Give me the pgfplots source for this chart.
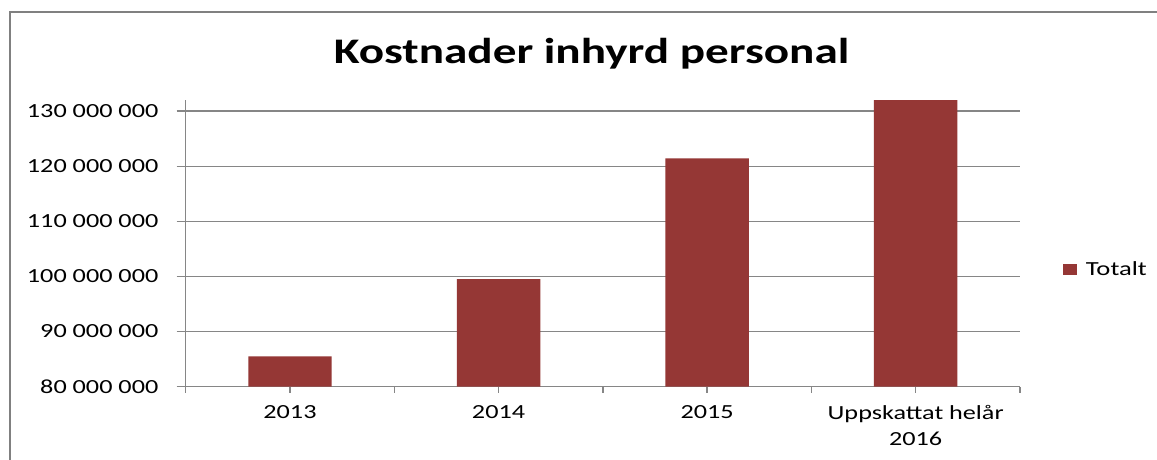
\documentclass[border=0pt]{standalone}
\usepackage{pgfplots}
\pgfplotsset{compat=1.18}
\usepackage{fontspec}
\setmainfont{Carlito}
\definecolor{barred}{HTML}{953735}
\definecolor{gridgray}{HTML}{868686}
\definecolor{framegray}{HTML}{808080}
\begin{document}
\begin{tikzpicture}[x=0.75pt,y=0.75pt]
\path[use as bounding box] (0,0) rectangle (1157,460);
\fill[white] (0,0) rectangle (1157,460);
\draw[framegray, line width=2.2pt] (10,0) -- (10,448) -- (1157,448);
\node[anchor=base, font=\fontsize{27}{32}\selectfont\bfseries, xscale=1.31, inner sep=0pt] at (591.5,396.7) {Kostnader inhyrd personal};
\begin{axis}[
  at={(139.28pt,54.98pt)}, anchor=south west,
  scale only axis,
  width=625.7pt, height=215pt,
  ymin=80000000, ymax=132000000,
  xmin=-0.5, xmax=3.5,
  scaled y ticks=false,
  ytick={80000000,90000000,100000000,110000000,120000000,130000000},
  yticklabels={80 000 000,90 000 000,100 000 000,110 000 000,120 000 000,130 000 000},
  yticklabel style={font=\fontsize{15}{18}\selectfont, xscale=1.31, anchor=east, xshift=-7pt},
  xtick={-0.5,0.5,1.5,2.5,3.5},
  xticklabels={},
  xtick style={/pgfplots/major tick length=4.5pt},
  extra x ticks={0,1,2,3},
  extra x tick labels={2013,2014,2015,{Uppskattat helår\\2016}},
  extra x tick style={major tick length=0pt, xticklabel style={align=center, font=\fontsize{15}{19.5}\selectfont, xscale=1.31, anchor=north, yshift=-10.5pt}},
  axis lines*=left,
  axis line style={gridgray, line width=1pt},
  tick align=outside,
  major tick length=6.75pt,
  tick style={gridgray, line width=1pt},
  ymajorgrids,
  major grid style={gridgray, line width=1pt},
  clip=false,
  legend style={at={(1.0515,0.407)}, anchor=west, draw=none, fill=none,
    font=\fontsize{15}{18}\selectfont, inner sep=0pt,
    legend cell align=left},
  legend image code/.code={\fill[barred] (0pt,-4pt) rectangle (10.5pt,4.2pt);},
]
\addplot[ybar, bar width=0.4, fill=barred, draw=none] coordinates {
  (0,85500000) (1,99500000) (2,121400000) (3,132000000)
};
\addlegendentry{\hspace*{4.5pt}\scalebox{1.33}[1]{Totalt}}
\end{axis}
\end{tikzpicture}
\end{document}
